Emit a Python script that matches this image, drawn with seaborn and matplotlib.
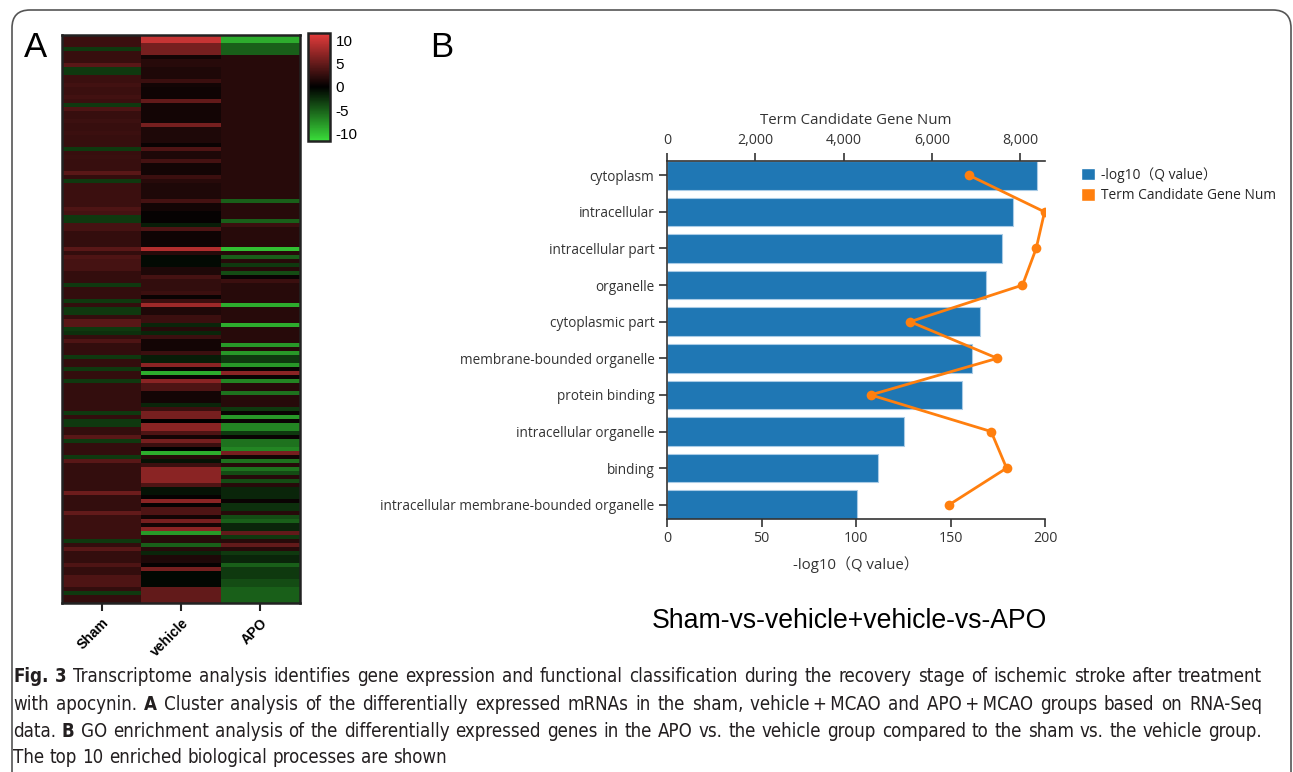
import numpy as np
import pandas as pd
import matplotlib
matplotlib.use('Agg')
import matplotlib.pyplot as plt
import seaborn as sns
from matplotlib.colors import LinearSegmentedColormap
from matplotlib.patches import FancyBboxPatch, Patch
from matplotlib.ticker import FuncFormatter
from matplotlib.transforms import IdentityTransform
from matplotlib import font_manager as fm

# ---------------- Panel A data (heatmap, one value per row) ----------------
heat_groups = ['Sham', 'vehicle', 'APO']
sham = [3, 3, 3, -3, 2.8, 2.8, 2.8, 4.5, -3, -3,
        3, 3, 3.3, 3, 3, 3.3, 3, -3, 4, 2.8,
        2.8, 3.1, 2.8, 2.8, 3, 2.8, 2.8, 2.8, -3, 2.8,
        2.9, 2.8, 2.8, 2.8, 4.5, 2.6, -3, 3, 3, 3,
        3, 3, 3, 4, 3.5, -3, -3, 3.5, 3.5, 2.6,
        2.6, 2.6, 2.6, 4.5, 2.6, 4, 3.5, 3.5, 3.5, 2.6,
        2.6, 2.6, -3, 2.6, 2.6, 2.6, -3, 2.6, -3, -3,
        2.6, 4.5, 4.5, -3, -2.5, 2.6, 4, 2.6, 2.6, 2.6,
        -3, 2.6, 2.6, -3, 2.6, 2.6, -3, 2.6, 2.6, 2.6,
        2.6, 2.6, 2.6, 2.6, -3, 2.6, -3, -3, 2.6, 2.6,
        4.5, -3, 2.6, 2.6, 2.6, -3, 4.5, 2.6, 2.6, 2.6,
        2.6, 2.6, 2.6, 2.6, 5.5, 2.6, 2.6, 2.6, 2.6, 5,
        3, 3, 3, 3, 3, 3, -3, 2.6, 4.5, 2.6,
        2.6, 2.6, 4, 2.6, 2.6, 4, 4, 4, 2.6, -3,
        2.6, 2.6]
vehicle = [10, 10, 6, 6, 6, 1, 2, 2, 1.5, 1.5,
           1.5, 3, 1, 0.8, 0.8, 0.8, 5, 1, 1, 1,
           1, 1, 6, 1.5, 1.5, 1.5, 1.5, 0.5, 4, 1.5,
           1.5, 3.5, 1, 1, 1, 3, 2, 1.5, 1.5, 1.5,
           1.5, 3.5, 1, 1, 0.3, 0.3, 0.3, -1.5, 4, 0.8,
           0.8, 0.8, 0.8, 9, 2, -0.5, -0.5, -0.5, 1.5, 1.5,
           3.5, 2.5, 2.5, 2.5, 3, 0.5, 3, 8, 1.5, 1.5,
           3, 3, -2, 2, -2, 3, 1, 1, 1, 3,
           -1.5, -1.5, 7, 0.5, -9, 0.5, 7, 4, 4, 1,
           1, 1, -2, 3, 6, 6, 0, 7, 7, 4,
           1, 6, 3, 0, -9, 2, -1, 3, 7, 7,
           7, 7, 4, -1, -1, 0.3, 7, 0.3, 4, 4,
           1, 6, 1, 7, -8, 2, 2, -5, 2, -2,
           1.5, 1.5, 0.3, 6, -0.4, -0.4, -0.4, -0.4, 5, 5,
           5, 5]
apo = [-9, -9, -5, -5, -5, 2, 2, 2, 2, 2,
       2, 2, 2, 2, 2, 2, 2, 2, 2, 2,
       2, 2, 2, 2, 2, 2, 2, 2, 2, 2,
       2, 2, 2, 2, 2, 2, 2, 2, 2, 2,
       2, -5, 2, 2, 2, 2, -5, 3, 2, 2,
       2, 2, 2, -10, 2, -5, 2, -3, 2, -4,
       0.5, 3, 2, 2, 2, 2, 2, -9, 2, 2,
       2, 2, -9, 2, 2, 2, 2, -8, 2, -8,
       -3, -3, -8, 0.5, 7, 0.5, -7, 2, 2, -6,
       2, 2, 2, -3, 0.5, -8, 0.5, -7, -7, -3,
       0.5, -6, -6, -7, 6, 1, -6, 2, -6, -4,
       2, -4, 2, -2, -2, -2, 0.5, -2.5, -2.5, 2,
       -4, -5, -2, -2, 5, -3, 2, 5, 2, -3,
       -2, -2, -5, -3, -3, -3, -4, -4, -5, -5,
       -5, -5]
cbar_ticks = [10, 5, 0, -5, -10]

# ---------------- Panel B data (GO enrichment) ----------------
go_terms = ['cytoplasm', 'intracellular', 'intracellular part', 'organelle',
            'cytoplasmic part', 'membrane-bounded organelle', 'protein binding',
            'intracellular organelle', 'binding',
            'intracellular membrane-bounded organelle']
q_values = [195.8, 183.0, 177.2, 168.8, 165.6, 161.4, 156.0, 125.4, 111.6, 100.5]
gene_nums = [6840, 8550, 8360, 8050, 5505, 7480, 4610, 7340, 7690, 6390]
q_ticks = [0, 50, 100, 150, 200]
gene_ticks = [0, 2000, 4000, 6000, 8000]

caption_lines = [
    [('Fig. 3', True), ('Transcriptome analysis identifies gene expression and functional classification during the recovery stage of ischemic stroke after treatment', False)],
    [('with apocynin.', False), ('A', True), ('Cluster analysis of the differentially expressed mRNAs in the sham, vehicle\u2009+\u2009MCAO and APO\u2009+\u2009MCAO groups based on RNA-Seq', False)],
    [('data.', False), ('B', True), ('GO enrichment analysis of the differentially expressed genes in the APO vs. the vehicle group compared to the sham vs. the vehicle group.', False)],
    [('The top 10 enriched biological processes are shown', False)],
]

# ---------------- style ----------------
sns.set_theme(style='white')
plt.rcParams['font.family'] = ['Liberation Sans', 'DejaVu Sans']
plt.rcParams['axes.unicode_minus'] = False

W, H = 1293, 772
fig = plt.figure(figsize=(W / 100, H / 100), dpi=100)
fig.patch.set_facecolor('white')


def box(x0, y0, x1, y1):
    return [x0 / W, 1 - y1 / H, (x1 - x0) / W, (y1 - y0) / H]


# ---------------- Panel A ----------------
axh = fig.add_axes(box(62, 35, 300, 603))
cax = fig.add_axes(box(308, 33, 330, 141))
cmap = LinearSegmentedColormap.from_list('gbr', ['#3ade3a', '#000000', '#e63c3c'])
df = pd.DataFrame({'Sham': sham, 'vehicle': vehicle, 'APO': apo})
sns.heatmap(df, ax=axh, cbar_ax=cax, cmap=cmap, vmin=-11.7, vmax=11.7,
            yticklabels=False, xticklabels=heat_groups)
for s in axh.spines.values():
    s.set_visible(True)
    s.set_linewidth(1.8)
    s.set_color('#222222')
axh.tick_params(axis='x', bottom=True, length=6, width=1.5, color='#222222', pad=3)
for lab in axh.get_xticklabels():
    lab.set_rotation(45)
    lab.set_ha('right')
    lab.set_rotation_mode('anchor')
    lab.set_fontweight('bold')
    lab.set_fontsize(10)
    lab.set_color('black')
cbar = axh.collections[0].colorbar
cbar.set_ticks(cbar_ticks)
cbar.ax.tick_params(direction='in', left=True, right=True, length=4, width=1.5,
                    labelsize=11, pad=4, color='#222222', labelcolor='black')
cbar.outline.set_linewidth(1.8)
cbar.outline.set_edgecolor('#222222')

fig.text(24 / W, 1 - 57 / H, 'A', fontsize=25, va='baseline', color='black')
fig.text(430 / W, 1 - 57 / H, 'B', fontsize=25, va='baseline', color='black')

# ---------------- Panel B ----------------
bfam = ['Open Sans', 'Noto Sans CJK SC']
ax = fig.add_axes(box(667, 161, 1045, 519))
sns.barplot(x=q_values, y=go_terms, ax=ax, color='#1f77b4', saturation=1,
            width=0.78, orient='h', edgecolor='#a9cbe6', linewidth=0.8)
ax2 = ax.twiny()
sns.lineplot(x=gene_nums, y=np.arange(len(go_terms)), ax=ax2, sort=False, orient='y',
             color='#ff7f0e', linewidth=2, marker='o', markersize=7,
             markeredgewidth=0, markerfacecolor='#ff7f0e')
ax.set_xlim(0, 200)
ax2.set_xlim(0, 8560)
ax.set_ylim(len(go_terms) - 1 + 0.39, -0.39)
ax.set_xticks(q_ticks)
ax2.set_xticks(gene_ticks)
ax2.xaxis.set_major_formatter(FuncFormatter(lambda v, p: f'{int(v):,}'))
ax.set_ylabel('')
ax2.set_ylabel('')
ax.set_xlabel('-log10\uff08Q value\uff09', family=bfam, fontsize=10.8, color='#333333', labelpad=7)
ax2.set_xlabel('Term Candidate Gene Num', family=bfam, fontsize=10.8, color='#333333', labelpad=7)

for a in (ax, ax2):
    for s in a.spines.values():
        s.set_visible(False)
        s.set_color('#333333')
        s.set_linewidth(1.2)
ax.spines['left'].set_visible(True)
ax.spines['bottom'].set_visible(True)
ax2.spines['top'].set_visible(True)
ax.tick_params(axis='both', direction='out', length=6, width=1.2, color='#333333',
               labelcolor='#333333', labelsize=9.8, left=True, bottom=True, pad=3)
ax2.tick_params(axis='x', direction='out', length=6, width=1.2, color='#333333',
                labelcolor='#333333', labelsize=10.2, top=True, bottom=False,
                labeltop=True, labelbottom=False, pad=3)
ax.tick_params(axis='x', labelsize=10.2)
ax2.tick_params(axis='y', left=False, right=False, labelleft=False, labelright=False)
for lab in ax.get_xticklabels() + ax.get_yticklabels() + ax2.get_xticklabels():
    lab.set_family(bfam)

handles = [Patch(facecolor='#1f77b4', label='-log10\uff08Q value\uff09'),
           Patch(facecolor='#ff7f0e', label='Term Candidate Gene Num')]
fig.legend(handles=handles, loc='upper left', bbox_to_anchor=(1081 / W, 1 - 167 / H),
           frameon=False, prop={'family': bfam, 'size': 9.9}, handlelength=1.05,
           handleheight=1.05, handletextpad=0.4, labelspacing=0.4,
           borderaxespad=0, borderpad=0)

fig.text(849 / W, 1 - 621 / H, 'Sham-vs-vehicle+vehicle-vs-APO', ha='center', va='center',
         fontsize=19.2, color='black')

# ---------------- border ----------------
border = FancyBboxPatch((12, -30), 1279, 792, boxstyle='round,pad=0,rounding_size=18',
                        transform=IdentityTransform(), fill=False, edgecolor='#555555',
                        linewidth=1.2)
fig.add_artist(border)

# ---------------- caption ----------------
avail = {f.name for f in fm.fontManager.ttflist}
if 'Liberation Sans Narrow' in avail:
    capkw = {'family': 'Liberation Sans Narrow'}
else:
    capkw = {'family': 'DejaVu Sans', 'stretch': 'condensed'}
cap_color = '#231f20'
renderer = fig.canvas.get_renderer()


def text_w(s, bold, size):
    t = fig.text(0, 0, s, fontsize=size, fontweight='bold' if bold else 'normal', **capkw)
    w = t.get_window_extent(renderer).width
    t.remove()
    return w


def words_of(line):
    out = []
    for seg, bold in line:
        for w in seg.split(' '):
            if w:
                out.append((w, bold))
    return out


x_left, x_right = 13, 1262
base = 12.5
sp0 = text_w('a a', False, base) - text_w('aa', False, base)
wl0 = words_of(caption_lines[0])
nat = sum(text_w(w, b, base) for w, b in wl0) + (len(wl0) - 1) * sp0
size = base * (x_right - x_left) * 0.985 / nat
space_w = text_w('a a', False, size) - text_w('aa', False, size)
baselines = [682, 710, 737, 763]
for li, line in enumerate(caption_lines):
    wl = words_of(line)
    widths = [text_w(w, b, size) for w, b in wl]
    if li < 3 and len(wl) > 1:
        gap = (x_right - x_left - sum(widths)) / (len(wl) - 1)
    else:
        gap = space_w
    x = x_left
    for (w, b), wd in zip(wl, widths):
        fig.text(x / W, 1 - baselines[li] / H, w, fontsize=size,
                 fontweight='bold' if b else 'normal', va='baseline', ha='left',
                 color=cap_color, **capkw)
        x += wd + gap

fig.savefig('out.png', dpi=100, facecolor='white')
